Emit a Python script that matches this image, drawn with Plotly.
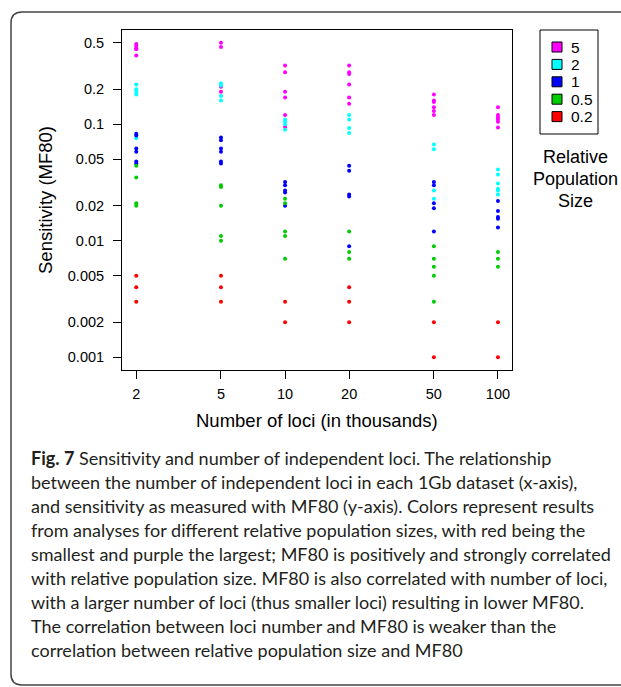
import plotly.graph_objects as go

# ---------------- data ----------------
loci = [2, 5, 10, 20, 50, 100]
tick_vals_y = [0.001, 0.002, 0.005, 0.01, 0.02, 0.05, 0.1, 0.2, 0.5]
tick_text_y = ["0.001", "0.002", "0.005", "0.01", "0.02", "0.05", "0.1", "0.2", "0.5"]
tick_text_x = ["2", "5", "10", "20", "50", "100"]

pop_labels = ["5", "2", "1", "0.5", "0.2"]
pop_colors = ["#FF00FF", "#00FFFF", "#0000FF", "#00CD00", "#FF0000"]

# MF80 values per locus count (one list per value of loci)
mf80_pop5 = [
    [0.49, 0.47, 0.45, 0.44, 0.39],
    [0.50, 0.46, 0.21, 0.19],
    [0.32, 0.28, 0.19, 0.17, 0.12, 0.095],
    [0.32, 0.28, 0.27, 0.22, 0.17, 0.15],
    [0.18, 0.16, 0.155, 0.14, 0.13, 0.12],
    [0.14, 0.12, 0.115, 0.11, 0.105, 0.094],
]
mf80_pop2 = [
    [0.22, 0.20, 0.19, 0.18, 0.076],
    [0.225, 0.215, 0.175, 0.16],
    [0.11, 0.105, 0.10, 0.09],
    [0.12, 0.11, 0.093, 0.084],
    [0.067, 0.061, 0.027, 0.023],
    [0.041, 0.037, 0.031, 0.028, 0.027, 0.025],
]
mf80_pop1 = [
    [0.083, 0.080, 0.062, 0.058, 0.048, 0.046],
    [0.077, 0.073, 0.062, 0.058, 0.048, 0.046],
    [0.032, 0.030, 0.027, 0.026, 0.020],
    [0.044, 0.040, 0.025, 0.024, 0.009],
    [0.032, 0.030, 0.021, 0.019, 0.012],
    [0.022, 0.018, 0.016, 0.0155, 0.013],
]
mf80_pop05 = [
    [0.044, 0.035, 0.021, 0.020],
    [0.030, 0.029, 0.020, 0.011, 0.010],
    [0.023, 0.021, 0.012, 0.011, 0.007],
    [0.012, 0.008, 0.007],
    [0.009, 0.007, 0.006, 0.005, 0.003],
    [0.008, 0.007, 0.006],
]
mf80_pop02 = [
    [0.005, 0.004, 0.003],
    [0.005, 0.004, 0.003],
    [0.003, 0.002],
    [0.004, 0.003, 0.002],
    [0.002, 0.001],
    [0.002, 0.001],
]

groups = [mf80_pop5, mf80_pop2, mf80_pop1, mf80_pop05, mf80_pop02]

legend_title_lines = ["Relative", "Population", "Size"]

caption_lines = [
    "<b>Fig. 7</b> Sensitivity and number of independent loci. The relationship",
    "between the number of independent loci in each 1Gb dataset (x-axis),",
    "and sensitivity as measured with MF80 (y-axis). Colors represent results",
    "from analyses for different relative population sizes, with red being the",
    "smallest and purple the largest; MF80 is positively and strongly correlated",
    "with relative population size. MF80 is also correlated with number of loci,",
    "with a larger number of loci (thus smaller loci) resulting in lower MF80.",
    "The correlation between loci number and MF80 is weaker than the",
    "correlation between relative population size and MF80",
]

# ---------------- layout geometry (pixels) ----------------
W, H = 621, 687
L, R, T, B = 122, 512, 30, 370


def px(x):
    return (x - L) / (R - L)


def py(y):
    return (B - y) / (B - T)


fig = go.Figure()

for vals, col, lab in zip(groups, pop_colors, pop_labels):
    xs, ys = [], []
    for lx, vv in zip(loci, vals):
        for v in vv:
            xs.append(lx)
            ys.append(v)
    fig.add_trace(go.Scatter(
        x=xs, y=ys, mode="markers", showlegend=False, name=lab,
        marker=dict(size=4, color=col, line=dict(width=0)),
    ))

font_main = "Liberation Sans, Arial, sans-serif"

fig.update_layout(
    width=W, height=H,
    margin=dict(l=L, r=W - R, t=T, b=H - B, pad=0),
    paper_bgcolor="white", plot_bgcolor="white",
    font=dict(family=font_main, color="black", size=14.5),
    showlegend=False,
    xaxis=dict(
        type="log", range=[0.234, 2.066],
        tickvals=loci, ticktext=tick_text_x,
        ticks="outside", ticklen=8, tickwidth=1, tickcolor="black",
        showline=True, mirror=True, linecolor="black", linewidth=1,
        showgrid=False, zeroline=False, ticklabelstandoff=3,
        tickfont=dict(size=14.5),
    ),
    yaxis=dict(
        type="log", range=[-3.109, -0.1906],
        tickvals=tick_vals_y, ticktext=tick_text_y,
        ticks="outside", ticklen=8, tickwidth=1, tickcolor="black",
        showline=True, mirror=True, linecolor="black", linewidth=1,
        showgrid=False, zeroline=False, ticklabelstandoff=6,
        tickfont=dict(size=14.5),
    ),
)

ann = []
shapes = []
ann.append(dict(text="Sensitivity (MF80)", x=px(45), y=py(200), xref="paper", yref="paper",
                textangle=-90, showarrow=False, font=dict(size=18.5),
                xanchor="center", yanchor="middle"))
ann.append(dict(text="Number of loci (in thousands)", x=px(317), y=py(420), xref="paper",
                yref="paper", showarrow=False, font=dict(size=18.5),
                xanchor="center", yanchor="middle"))

# legend (box, colour keys, labels)
shapes.append(dict(type="rect", xref="paper", yref="paper",
                   x0=px(540), x1=px(598), y0=py(30), y1=py(134),
                   line=dict(color="black", width=1), fillcolor="white"))
for i, (lab, col) in enumerate(zip(pop_labels, pop_colors)):
    yc = 47 + 17.4 * i
    shapes.append(dict(type="rect", xref="paper", yref="paper",
                       x0=px(552), x1=px(562), y0=py(yc - 5), y1=py(yc + 5),
                       line=dict(color="black", width=1), fillcolor=col))
    ann.append(dict(text=lab, x=px(569), y=py(yc), xref="paper", yref="paper",
                    showarrow=False, font=dict(size=15.5),
                    xanchor="left", yanchor="middle"))
for i, t in enumerate(legend_title_lines):
    ann.append(dict(text=t, x=px(575), y=py(157 + 22 * i), xref="paper", yref="paper",
                    showarrow=False, font=dict(size=18),
                    xanchor="center", yanchor="middle"))

cap_font = "Lato, Liberation Sans, sans-serif"
for i, t in enumerate(caption_lines):
    ann.append(dict(text=t, x=px(29), y=py(458 + 24 * i), xref="paper", yref="paper",
                    showarrow=False, align="left",
                    font=dict(size=18, family=cap_font, color="#231f20"),
                    xanchor="left", yanchor="middle"))

# rounded frame around figure + caption
r = 11
path = (f"M {px(660)},{py(12)} L {px(11 + r)},{py(12)} "
        f"Q {px(11)},{py(12)} {px(11)},{py(12 + r)} "
        f"L {px(11)},{py(685 - r)} Q {px(11)},{py(685)} {px(11 + r)},{py(685)} "
        f"L {px(660)},{py(685)}")
shapes.append(dict(type="path", path=path, xref="paper", yref="paper",
                   line=dict(color="#444444", width=1.5)))

fig.update_layout(annotations=ann, shapes=shapes)

fig.write_html("out.html")
